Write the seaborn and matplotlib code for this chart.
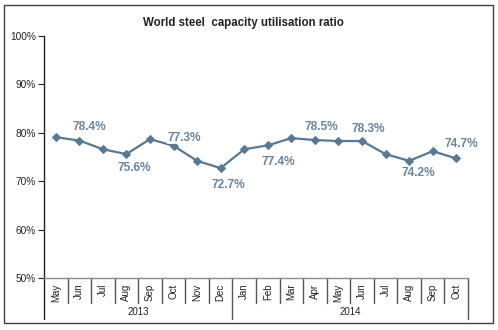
import matplotlib
matplotlib.use("Agg")
import matplotlib.pyplot as plt
import matplotlib.patches as mpatches
import matplotlib.transforms as mtransforms
import seaborn as sns
import pandas as pd
import numpy as np

# ---- data ----
months = ["May", "Jun", "Jul", "Aug", "Sep", "Oct", "Nov", "Dec",
          "Jan", "Feb", "Mar", "Apr", "May", "Jun", "Jul", "Aug", "Sep", "Oct"]
years = ["2013", "2014"]
year_counts = [8, 10]
ratio = [79.1, 78.4, 76.6, 75.6, 78.7, 77.3, 74.2, 72.7,
         76.6, 77.4, 78.9, 78.5, 78.3, 78.3, 75.6, 74.2, 76.2, 74.7]
labelled_idx = [1, 3, 5, 7, 9, 11, 13, 15, 17]
yticks = [50, 60, 70, 80, 90, 100]

# label placement (pixels: dx, dy)
label_offsets = [(10, 14), (8, -14), (11, 8), (8, -17), (11, -17),
                 (6, 13), (6, 12), (9, -12), (5, 14)]

sns.set_theme(style="white")
plt.rcParams["font.family"] = ["Liberation Sans", "DejaVu Sans"]

W, H = 498, 330
fig = plt.figure(figsize=(W / 100, H / 100), dpi=100)
fig.patch.set_facecolor("white")

x0, x1, ytop, ybot = 44, 468, 36, 278
ax = fig.add_axes([x0 / W, 1 - ybot / H, (x1 - x0) / W, (ybot - ytop) / H])
ax.set_facecolor("white")

df = pd.DataFrame({"idx": np.arange(len(ratio)), "ratio": ratio})
line_color = "#587894"
sns.lineplot(data=df, x="idx", y="ratio", ax=ax, color=line_color, lw=1.6,
             marker="D", markersize=4.5, markeredgecolor=line_color,
             markerfacecolor=line_color)

ax.set_xlim(-0.5, len(ratio) - 0.5)
ax.set_ylim(50, 100)
ax.set_yticks(yticks)
ax.set_yticklabels([f"{t}%" for t in yticks], fontsize=7.3, color="#222222")
ax.tick_params(axis="y", direction="out", length=4, width=0.8, color="#222222",
               pad=2, left=True)
ax.set_xticks(np.arange(len(months)))
ax.set_xticklabels(months, rotation=90, fontsize=7, color="#222222")
ax.tick_params(axis="x", length=0, pad=4)
ax.set_xlabel("")
ax.set_ylabel("")

for s in ["top", "right"]:
    ax.spines[s].set_visible(False)
ax.spines["left"].set_color("#222222")
ax.spines["left"].set_linewidth(1.0)
ax.spines["bottom"].set_color("#8a8a8a")
ax.spines["bottom"].set_linewidth(1.0)

# value labels
for (i, (dx, dy)) in zip(labelled_idx, label_offsets):
    ax.annotate(f"{ratio[i]:.1f}%", (i, ratio[i]),
                xytext=(dx * 0.72, dy * 0.72), textcoords="offset points",
                ha="center", va="center", fontsize=8.6, fontweight="bold",
                color="#6685a0", zorder=5,
                bbox=dict(boxstyle="square,pad=0.05", fc="white", ec="none",
                          alpha=0.85))

# category separators
trans = mtransforms.blended_transform_factory(ax.transData, ax.transAxes)
short = -(303 - ybot) / (ybot - ytop)
long = -(319 - ybot) / (ybot - ytop)
bounds = np.cumsum([0] + year_counts)
for k in range(len(months) + 1):
    is_year = k in bounds
    ax.plot([k - 0.5, k - 0.5], [0, long if is_year else short],
            transform=trans, color="#222222" if k == 0 else "#555555",
            lw=1.0, clip_on=False)
for yr, a, b in zip(years, bounds[:-1], bounds[1:]):
    ax.text((a + b - 1) / 2, -(312 - ybot) / (ybot - ytop), yr,
            transform=trans, ha="center", va="center", fontsize=7,
            color="#222222")

fig.text(243 / W, 1 - 23 / H, "World steel  capacity utilisation ratio",
         ha="center", va="center", fontsize=8.3, fontweight="bold",
         color="#222222")

fig.patches.append(mpatches.Rectangle((4 / W, 1 - 323 / H), 489 / W, 318 / H,
                                      transform=fig.transFigure, fill=False,
                                      edgecolor="#404040", lw=1.0))

fig.savefig("out.png", dpi=100, facecolor="white")
